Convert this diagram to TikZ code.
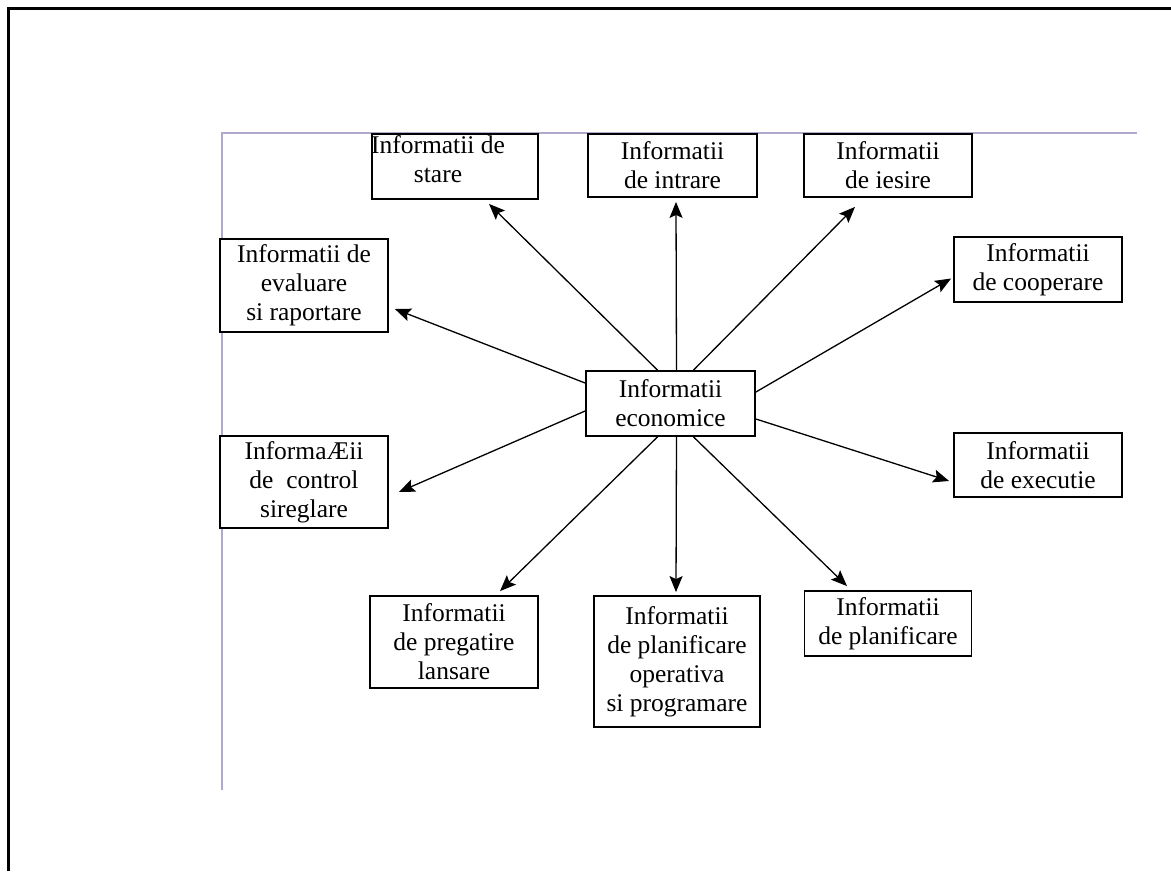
\documentclass[tikz,border=0pt]{standalone}
\usepackage{fontspec}
\setmainfont{Liberation Serif}
\usetikzlibrary{arrows.meta,calc}
\definecolor{guide}{RGB}{178,168,204}
\begin{document}
\begin{tikzpicture}[x=1pt,y=-1pt,
  boxtext/.style={align=center,inner sep=0pt,font=\fontsize{25.5}{29}\selectfont},
  infobox/.style={boxtext,draw=black,line width=1.8pt,fill=white},
  flow/.style={line width=1.3pt,-{Stealth[length=16pt,width=13pt,inset=3pt]}}]
\useasboundingbox (0,0) rectangle (1171,871);

% page frame and guide lines
\draw[line width=3pt] (8,871) -- (8,8) -- (1171,8);
\draw[guide,line width=1.6pt] (222,790) -- (222,133) -- (1137,133);

% central node
\node[infobox,minimum width=169pt,minimum height=65pt] (eco) at (670.5,403.5) {Informatii\\economice};

% top row
\node[infobox,minimum width=166pt,minimum height=65pt] (stare) at (455,166.5) {};
\node[boxtext] (stareText) at (438,159) {Informatii de\\stare};
\node[infobox,minimum width=169pt,minimum height=63pt] (intrare) at (672.5,165.5) {Informatii\\de intrare};
\node[infobox,minimum width=168pt,minimum height=63pt] (iesire) at (888,165.5) {Informatii\\de iesire};

% left column
\node[infobox,minimum width=168pt,minimum height=93pt] (evaluare) at (304,285.5) {Informatii de\\evaluare\\si raportare};
\node[infobox,minimum width=168pt,minimum height=92pt] (control) at (304,482) {InformaÆii\\de \ control\\sireglare};

% right column
\node[infobox,minimum width=168pt,minimum height=65pt] (cooperare) at (1038,269.5) {Informatii\\de cooperare};
\node[infobox,minimum width=168pt,minimum height=64pt] (executie) at (1038,465) {Informatii\\de executie};

% bottom row
\node[infobox,minimum width=168pt,minimum height=92pt] (pregatire) at (454,642) {Informatii\\de pregatire\\lansare};
\node[infobox,minimum width=166pt,minimum height=131pt] (operativa) at (677,661.5) {Informatii\\de planificare\\operativa\\si programare};
\node[infobox,minimum width=167pt,minimum height=65pt] (planificare) at (888,623.5) {Informatii\\de planificare};

% connectors leaving the central node
\draw[flow] ($(eco.north)+(-13,0)$) -- ($(stare.south)+(34,4)$);
\draw[flow] ($(eco.north)+(6,0)$) -- ($(intrare.south)+(3.5,4)$);
\draw[flow] ($(eco.north)+(23,0)$) -- ($(iesire.south)+(-33,9)$);
\draw[flow] ($(eco.east)+(0,-11.5)$) -- ($(cooperare.west)+(-2,9)$);
\draw[flow] ($(eco.east)+(0,15.5)$) -- ($(executie.west)+(-4,16)$);
\draw[flow] ($(eco.south)+(23,0)$) -- ($(planificare.north)+(-41,-4)$);
\draw[flow] ($(eco.south)+(6,0)$) -- ($(operativa.north)+(-1,-3)$);
\draw[flow] ($(eco.south)+(-13,0)$) -- ($(pregatire.north)+(46,-4)$);
\draw[flow] ($(eco.west)+(0,7.5)$) -- ($(control.east)+(10,10)$);
\draw[flow] ($(eco.west)+(0,-20.5)$) -- ($(evaluare.east)+(6,23.5)$);
\end{tikzpicture}
\end{document}
